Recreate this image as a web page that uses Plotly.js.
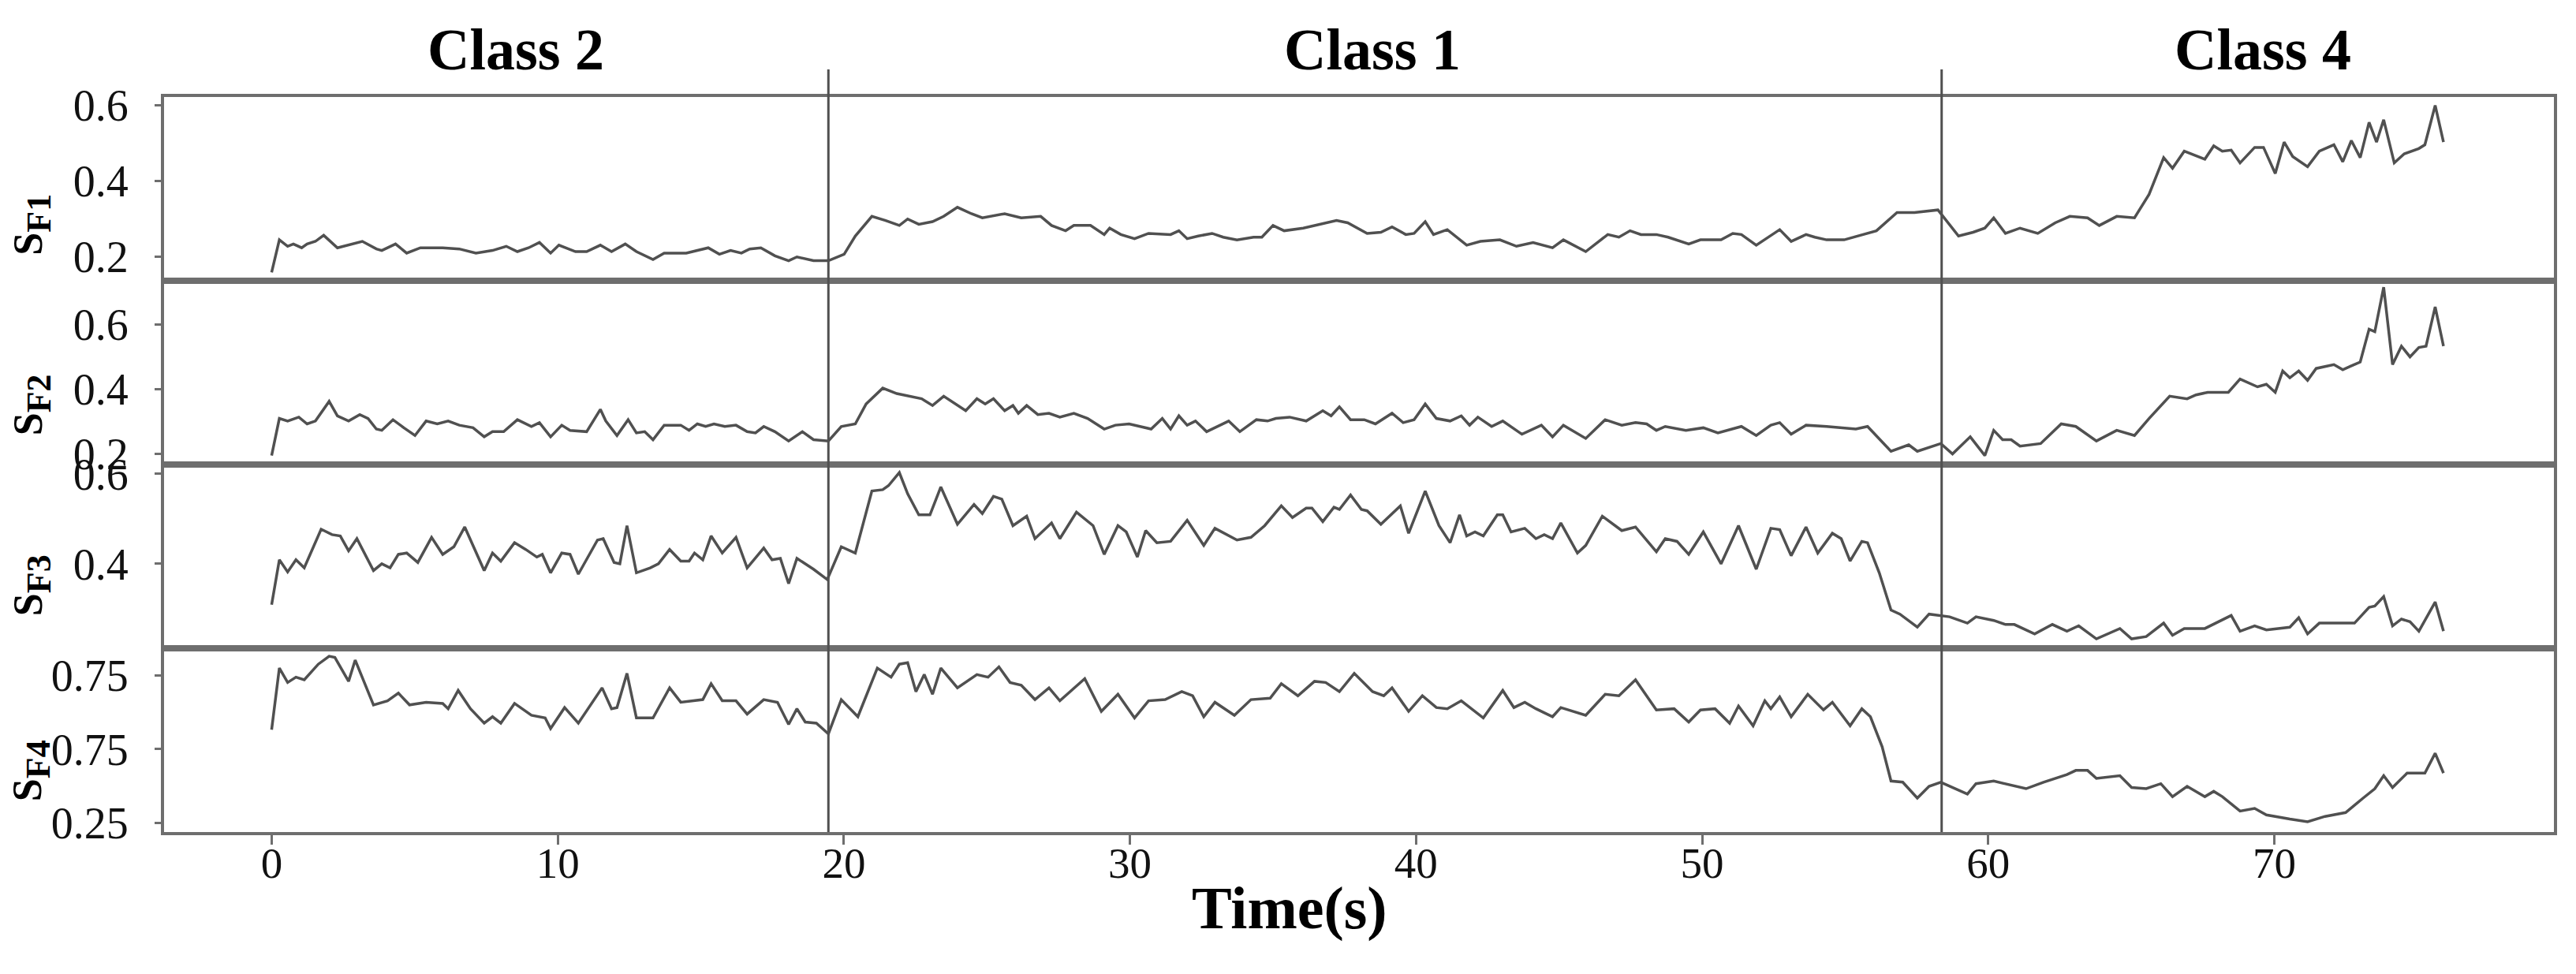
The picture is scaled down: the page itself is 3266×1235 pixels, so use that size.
<!DOCTYPE html>
<html>
<head>
<meta charset="utf-8">
<script src="https://cdn.plot.ly/plotly-3.0.1.min.js"></script>
<style>html,body{margin:0;padding:0;background:#fff;}#chart{width:3266px;height:1235px;}</style>
</head>
<body>
<div id="chart"></div>
<script>
// ---- data ----
const classNames = ["Class 2", "Class 1", "Class 4"];
const classBoundaries = [19.46, 58.37];
const xTickVals = [0, 10, 20, 30, 40, 50, 60, 70];
const seriesNames = ["F1", "F2", "F3", "F4"];
const sf4TickVals = [0.25, 0.5, 0.75];
const sf4TickText = ["0.25", "0.75", "0.75"];

const t1 = [0.00,0.27,0.56,0.76,1.05,1.24,1.53,1.82,2.30,2.69,3.17,3.66,3.85,4.33,4.72,5.20,5.98,6.56,7.14,7.72,8.20,8.59,8.98,9.36,9.75,10.04,10.62,11.01,11.49,11.88,12.36,12.75,13.33,13.72,14.49,15.26,15.65,16.04,16.42,16.71,17.10,17.59,18.07,18.36,18.94,19.46,
20.01,20.40,20.98,21.46,21.94,22.23,22.62,23.10,23.49,23.97,24.46,24.84,25.62,26.20,26.88,27.26,27.75,28.04,28.62,29.10,29.29,29.68,30.16,30.65,31.42,31.71,32.00,32.39,32.87,33.26,33.74,34.32,34.61,35.00,35.39,36.06,36.64,37.22,37.61,38.29,38.77,39.16,39.64,39.93,40.32,40.61,41.09,41.77,42.25,42.93,43.51,44.09,44.77,45.15,45.93,46.70,47.09,47.48,47.86,
48.40,48.81,49.53,49.94,50.66,51.07,51.37,51.89,52.30,52.71,53.11,53.63,53.94,54.35,54.96,55.47,56.09,56.81,57.42,58.24,58.96,59.47,59.88,60.19,60.60,61.11,61.73,62.34,62.85,63.47,63.88,64.49,65.11,65.62,66.13,66.44,66.85,67.57,67.88,68.18,68.49,68.80,69.31,69.62,70.03,70.34,70.64,71.16,71.57,72.08,72.39,72.69,73.00,73.31,73.57,73.82,74.19,74.54,75.05,75.26,75.62,75.91];
const sf1 = [0.158,0.244,0.227,0.233,0.223,0.233,0.240,0.256,0.223,0.230,0.240,0.220,0.216,0.233,0.209,0.223,0.223,0.220,0.209,0.216,0.227,0.213,0.223,0.237,0.209,0.230,0.213,0.213,0.230,0.213,0.233,0.213,0.192,0.209,0.209,0.223,0.206,0.216,0.209,0.220,0.223,0.202,0.189,0.199,0.189,0.189,
0.206,0.254,0.306,0.295,0.282,0.299,0.285,0.292,0.306,0.330,0.313,0.302,0.313,0.302,0.306,0.282,0.268,0.282,0.282,0.258,0.275,0.258,0.247,0.261,0.258,0.268,0.247,0.254,0.261,0.251,0.244,0.251,0.251,0.282,0.268,0.275,0.285,0.295,0.289,0.261,0.264,0.278,0.258,0.261,0.292,0.258,0.271,0.230,0.240,0.244,0.227,0.237,0.223,0.244,0.213,0.258,0.251,0.268,0.258,
0.258,0.251,0.233,0.244,0.244,0.261,0.258,0.230,0.251,0.271,0.240,0.258,0.251,0.244,0.244,0.254,0.268,0.316,0.316,0.323,0.254,0.264,0.275,0.302,0.261,0.275,0.261,0.289,0.306,0.302,0.282,0.306,0.302,0.364,0.461,0.433,0.478,0.457,0.492,0.478,0.481,0.447,0.488,0.488,0.419,0.502,0.464,0.437,0.478,0.495,0.450,0.506,0.461,0.554,0.502,0.561,0.447,0.471,0.485,0.495,0.599,0.502];

const t2 = [0.00,0.27,0.56,0.95,1.24,1.53,2.01,2.30,2.69,3.08,3.37,3.66,3.85,4.24,4.62,5.01,5.40,5.79,6.17,6.56,7.04,7.43,7.72,8.11,8.59,9.08,9.36,9.75,10.14,10.43,11.01,11.49,11.68,12.07,12.46,12.75,13.04,13.33,13.72,14.30,14.59,14.88,15.17,15.46,15.84,16.23,16.62,16.91,17.20,17.59,18.07,18.55,18.94,19.46,
19.91,20.40,20.78,21.36,21.85,22.72,23.10,23.49,24.26,24.65,24.94,25.23,25.62,25.91,26.10,26.39,26.78,27.17,27.55,28.04,28.52,29.10,29.49,29.97,30.74,31.13,31.42,31.71,32.00,32.29,32.68,33.45,33.84,34.42,34.81,35.10,35.58,36.16,36.74,37.03,37.32,37.71,38.19,38.58,39.16,39.55,39.93,40.32,40.71,41.19,41.58,41.87,42.16,42.64,43.03,43.70,44.38,44.77,45.15,45.93,46.61,47.19,47.67,48.06,
48.40,48.71,49.43,50.04,50.55,51.37,51.89,52.40,52.71,53.11,53.63,54.35,55.37,55.78,56.60,57.22,57.52,58.34,58.75,59.37,59.88,60.19,60.50,60.80,61.11,61.83,62.55,63.06,63.78,64.49,65.11,65.62,66.34,66.95,67.26,67.67,68.39,68.80,69.41,69.72,70.03,70.29,70.54,70.85,71.16,71.46,72.08,72.39,72.69,73.00,73.31,73.51,73.82,74.13,74.44,74.74,75.05,75.30,75.62,75.91];
const sf2 = [0.194,0.309,0.301,0.313,0.292,0.301,0.362,0.317,0.301,0.321,0.309,0.276,0.272,0.305,0.280,0.256,0.301,0.292,0.301,0.288,0.280,0.252,0.268,0.268,0.305,0.284,0.296,0.252,0.288,0.272,0.268,0.337,0.301,0.256,0.305,0.264,0.268,0.243,0.288,0.288,0.272,0.292,0.284,0.292,0.284,0.288,0.268,0.264,0.284,0.268,0.239,0.268,0.243,0.239,
0.284,0.292,0.354,0.403,0.386,0.370,0.349,0.378,0.333,0.370,0.354,0.370,0.333,0.349,0.325,0.349,0.321,0.325,0.313,0.325,0.309,0.276,0.288,0.292,0.276,0.309,0.276,0.317,0.288,0.301,0.268,0.301,0.268,0.305,0.301,0.309,0.313,0.301,0.333,0.317,0.345,0.305,0.305,0.292,0.325,0.296,0.305,0.354,0.309,0.301,0.317,0.288,0.313,0.284,0.301,0.260,0.288,0.252,0.288,0.247,0.305,0.288,0.296,0.292,
0.272,0.284,0.272,0.280,0.264,0.284,0.256,0.288,0.296,0.260,0.288,0.284,0.276,0.284,0.207,0.227,0.207,0.231,0.199,0.252,0.194,0.272,0.243,0.243,0.223,0.231,0.292,0.284,0.239,0.272,0.256,0.309,0.378,0.370,0.382,0.390,0.390,0.431,0.407,0.415,0.390,0.456,0.435,0.456,0.427,0.464,0.476,0.460,0.472,0.484,0.586,0.578,0.716,0.476,0.533,0.500,0.529,0.533,0.655,0.533];

const t3 = [0.00,0.27,0.56,0.85,1.14,1.73,2.11,2.40,2.69,2.98,3.56,3.85,4.14,4.43,4.72,5.11,5.59,5.98,6.37,6.75,7.43,7.72,8.01,8.49,8.88,9.27,9.46,9.75,10.14,10.43,10.72,11.39,11.59,11.97,12.17,12.42,12.75,13.23,13.52,13.91,14.30,14.59,14.78,15.07,15.36,15.75,16.23,16.62,17.20,17.49,17.78,18.07,18.36,18.94,19.42,
19.91,20.40,20.98,21.36,21.56,21.94,22.23,22.62,23.01,23.39,23.97,24.55,24.84,25.23,25.52,25.91,26.39,26.68,27.26,27.55,28.13,28.71,29.10,29.58,29.87,30.26,30.55,30.94,31.42,32.00,32.58,32.97,33.74,34.23,34.71,35.29,35.68,36.16,36.36,36.74,37.13,37.32,37.71,38.09,38.29,38.77,39.45,39.74,40.32,40.80,41.19,41.52,41.77,42.06,42.35,42.84,43.03,43.32,43.80,44.19,44.48,44.77,45.06,45.64,45.93,46.51,47.19,47.67,
48.40,48.71,49.12,49.53,50.04,50.66,51.27,51.89,52.40,52.71,53.11,53.63,54.04,54.55,54.86,55.17,55.58,55.78,56.19,56.60,56.91,57.52,57.93,58.65,59.27,59.57,60.19,60.60,60.91,61.62,62.24,62.75,63.16,63.78,64.60,65.01,65.52,66.13,66.44,66.85,67.57,68.49,68.80,69.31,69.72,70.54,70.85,71.16,71.57,72.80,73.31,73.51,73.82,74.13,74.44,74.74,75.05,75.62,75.91];
const sf3 = [0.309,0.409,0.382,0.409,0.391,0.477,0.465,0.462,0.429,0.456,0.385,0.400,0.391,0.421,0.424,0.403,0.459,0.421,0.438,0.482,0.385,0.424,0.406,0.447,0.432,0.415,0.421,0.380,0.424,0.421,0.377,0.453,0.456,0.403,0.400,0.485,0.380,0.391,0.400,0.432,0.406,0.406,0.424,0.409,0.462,0.424,0.459,0.391,0.435,0.409,0.412,0.356,0.412,0.388,0.365,
0.438,0.424,0.562,0.565,0.574,0.603,0.556,0.509,0.509,0.571,0.488,0.532,0.512,0.550,0.544,0.485,0.506,0.456,0.491,0.456,0.515,0.485,0.421,0.485,0.471,0.415,0.474,0.447,0.450,0.497,0.441,0.479,0.453,0.459,0.485,0.529,0.503,0.524,0.524,0.494,0.526,0.521,0.553,0.521,0.518,0.488,0.529,0.468,0.562,0.485,0.447,0.509,0.462,0.471,0.462,0.509,0.509,0.471,0.479,0.456,0.465,0.456,0.491,0.424,0.441,0.506,0.474,0.482,
0.427,0.456,0.450,0.421,0.471,0.400,0.485,0.388,0.479,0.476,0.418,0.482,0.424,0.468,0.456,0.406,0.450,0.447,0.380,0.297,0.288,0.259,0.288,0.282,0.268,0.282,0.274,0.265,0.265,0.244,0.265,0.250,0.262,0.233,0.256,0.233,0.238,0.268,0.241,0.256,0.256,0.285,0.250,0.262,0.253,0.259,0.280,0.244,0.268,0.268,0.303,0.306,0.327,0.262,0.277,0.271,0.250,0.315,0.250];

const t4 = [0.00,0.27,0.56,0.85,1.14,1.63,2.01,2.21,2.69,2.92,3.56,4.05,4.43,4.82,5.40,5.98,6.17,6.52,6.95,7.43,7.72,8.01,8.49,9.08,9.56,9.75,10.24,10.72,11.55,11.88,12.07,12.42,12.75,13.33,13.91,14.30,15.07,15.36,15.75,16.23,16.62,17.20,17.68,18.07,18.36,18.65,19.04,19.46,
19.91,20.49,21.17,21.65,21.94,22.23,22.52,22.81,23.10,23.39,23.97,24.65,25.04,25.42,25.81,26.20,26.68,27.17,27.55,28.04,28.42,29.00,29.58,30.16,30.65,31.23,31.81,32.19,32.58,32.97,33.65,34.23,34.90,35.29,35.87,36.45,36.84,37.32,37.84,38.48,38.87,39.16,39.74,40.22,40.71,41.09,41.58,42.35,43.03,43.42,43.80,44.19,44.77,45.06,45.93,46.61,47.09,47.67,
48.40,49.02,49.53,49.94,50.45,50.96,51.27,51.78,52.19,52.40,52.71,53.11,53.69,54.24,54.55,55.17,55.58,55.88,56.29,56.60,57.01,57.52,57.93,58.34,58.75,59.27,59.57,60.19,61.32,61.93,62.75,63.06,63.47,63.78,64.60,65.01,65.52,66.03,66.44,66.95,67.57,67.88,68.18,68.80,69.31,69.72,70.54,71.16,71.77,72.49,73.10,73.51,73.82,74.13,74.64,75.26,75.62,75.91];
const sf4 = [0.566,0.775,0.726,0.744,0.735,0.788,0.815,0.811,0.730,0.802,0.650,0.664,0.690,0.650,0.659,0.655,0.637,0.699,0.637,0.588,0.610,0.588,0.655,0.615,0.606,0.570,0.641,0.588,0.708,0.637,0.641,0.757,0.606,0.606,0.708,0.659,0.668,0.722,0.664,0.664,0.619,0.668,0.659,0.584,0.637,0.592,0.588,0.552,
0.668,0.610,0.775,0.744,0.788,0.793,0.695,0.753,0.686,0.775,0.708,0.753,0.744,0.779,0.726,0.717,0.668,0.708,0.664,0.708,0.739,0.628,0.686,0.606,0.664,0.668,0.695,0.681,0.610,0.659,0.615,0.668,0.673,0.722,0.681,0.730,0.726,0.695,0.757,0.695,0.681,0.708,0.628,0.681,0.641,0.637,0.664,0.606,0.699,0.641,0.659,0.637,0.610,0.641,0.615,0.686,0.681,0.735,
0.633,0.637,0.592,0.633,0.637,0.588,0.646,0.579,0.664,0.637,0.677,0.610,0.686,0.633,0.659,0.579,0.637,0.610,0.508,0.392,0.388,0.334,0.374,0.388,0.370,0.348,0.383,0.392,0.366,0.388,0.414,0.428,0.428,0.401,0.410,0.370,0.366,0.383,0.339,0.374,0.339,0.357,0.339,0.290,0.299,0.277,0.263,0.254,0.272,0.285,0.334,0.366,0.410,0.370,0.419,0.419,0.486,0.419];

// ---- styling ----
const FONT = 'Liberation Serif, Times New Roman, serif';
const LINE = '#505050';
const FRAME = '#6e6e6e';

const series = [[t1, sf1], [t2, sf2], [t3, sf3], [t4, sf4]];
const traces = series.map((s, i) => ({
  type: 'scatter', mode: 'lines', x: s[0], y: s[1],
  xaxis: i === 0 ? 'x' : 'x' + (i + 1),
  yaxis: i === 0 ? 'y' : 'y' + (i + 1),
  line: {color: LINE, width: 3.5}, hoverinfo: 'skip'
}));

const xBase = {
  range: [-3.76, 79.77], showgrid: false, zeroline: false,
  showline: true, mirror: true, linecolor: FRAME, linewidth: 4, fixedrange: true
};
const yBase = {
  showgrid: false, zeroline: false, showline: true, mirror: true,
  linecolor: FRAME, linewidth: 4, ticks: 'outside', ticklen: 8, tickwidth: 3,
  tickcolor: FRAME, tickfont: {family: FONT, size: 56, color: '#111'},
  ticklabelstandoff: 22, fixedrange: true
};
const domains = [[0.75, 1], [0.5, 0.75], [0.25, 0.5], [0, 0.25]];

const layout = {
  width: 3266, height: 1235,
  margin: {l: 208, r: 28, t: 123, b: 180, pad: 0},
  paper_bgcolor: '#ffffff', plot_bgcolor: '#ffffff',
  showlegend: false,
  font: {family: FONT, color: '#111'},
  xaxis: Object.assign({}, xBase, {anchor: 'y', showticklabels: false, ticks: ''}),
  xaxis2: Object.assign({}, xBase, {anchor: 'y2', showticklabels: false, ticks: ''}),
  xaxis3: Object.assign({}, xBase, {anchor: 'y3', showticklabels: false, ticks: ''}),
  xaxis4: Object.assign({}, xBase, {
    anchor: 'y4', ticks: 'outside', ticklen: 12, tickwidth: 3, tickcolor: FRAME,
    tickvals: xTickVals, tickfont: {family: FONT, size: 55, color: '#111'},
    ticklabelstandoff: -24
  }),
  yaxis: Object.assign({}, yBase, {domain: domains[0], anchor: 'x', range: [0.136, 0.621], tickvals: [0.2, 0.4, 0.6], ticktext: ['0.2', '0.4', '0.6']}),
  yaxis2: Object.assign({}, yBase, {domain: domains[1], anchor: 'x2', range: [0.166, 0.736], tickvals: [0.2, 0.4, 0.6], ticktext: ['0.2', '0.4', '0.6']}),
  yaxis3: Object.assign({}, yBase, {domain: domains[2], anchor: 'x3', range: [0.212, 0.621], tickvals: [0.4, 0.6], ticktext: ['0.4', '0.6']}),
  yaxis4: Object.assign({}, yBase, {domain: domains[3], anchor: 'x4', range: [0.219, 0.842], tickvals: sf4TickVals, ticktext: sf4TickText}),
  shapes: classBoundaries.map(b => ({
    type: 'line', xref: 'x4', yref: 'paper', x0: b, x1: b, y0: 0, y1: 1.0376,
    line: {color: LINE, width: 3}
  })),
  annotations: []
};

// class titles
const classX = [0.1472, 0.5056, 0.8782];
classNames.forEach((c, i) => layout.annotations.push({
  text: '<b>' + c + '</b>', xref: 'paper', yref: 'paper', x: classX[i], y: 1.0644,
  xanchor: 'center', yanchor: 'middle', showarrow: false,
  font: {family: FONT, size: 74, color: '#000'}
}));
// y labels
const labelY = [0.8267, 0.5815, 0.3358, 0.0837];
seriesNames.forEach((n, i) => layout.annotations.push({
  text: '<b>S<sub><span style="font-size:44px">' + n + '</span></sub></b>',
  xref: 'paper', yref: 'paper', x: -0.0554, y: labelY[i], textangle: -90,
  xanchor: 'center', yanchor: 'middle', showarrow: false,
  font: {family: FONT, size: 52, color: '#000'}
}));
// x title
layout.annotations.push({
  text: '<b>Time(s)</b>', xref: 'paper', yref: 'paper', x: 0.471, y: -0.104,
  xanchor: 'center', yanchor: 'middle', showarrow: false,
  font: {family: FONT, size: 76, color: '#000'}
});

Plotly.newPlot('chart', traces, layout, {displayModeBar: false, staticPlot: true});
</script>
</body>
</html>
